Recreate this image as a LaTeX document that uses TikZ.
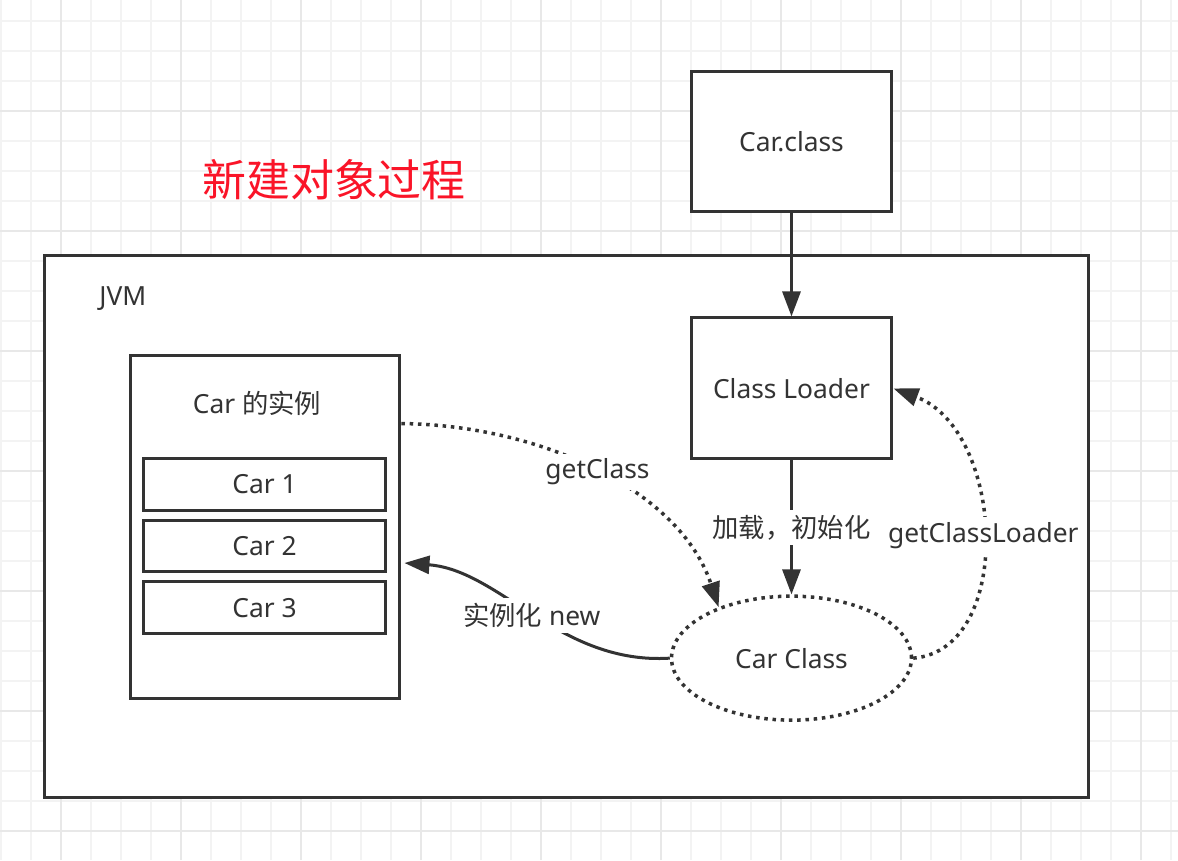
\documentclass[tikz,border=0pt]{standalone}
\usepackage{fontspec}
\setmainfont{Noto Sans}
\newfontfamily\zh{Noto Sans CJK SC}
\usetikzlibrary{arrows.meta, positioning, calc, shapes.geometric}
\definecolor{ink}{HTML}{333333}
\definecolor{gridminor}{HTML}{F3F3F3}
\definecolor{gridmajor}{HTML}{E8E8E8}
\definecolor{titlered}{RGB}{250,20,40}
\newcommand\bodysize{\fontsize{15}{18}\selectfont}

\begin{document}
\begin{tikzpicture}[
    x=0.02cm, y=-0.02cm,
    box/.style={rectangle, draw=ink, line width=0.06cm, fill=white, minimum width=4.02cm, minimum height=2.82cm, font=\bodysize, text=ink},
    cell/.style={rectangle, draw=ink, line width=0.06cm, fill=white, minimum width=4.86cm, minimum height=1.04cm, font=\bodysize, text=ink},
    arr/.style={-{Triangle[length=0.5cm, width=0.36cm]}, draw=ink, line width=0.06cm},
    dots/.style={line width=0.07cm, dash pattern=on 0.07cm off 0.095cm},
    lbl/.style={fill=white, inner sep=3pt, font=\bodysize, text=ink},
  ]
    \useasboundingbox (0,0) rectangle (1178,860);

    % Canvas grid
    \begin{scope}
      \clip (0,0) rectangle (1178,860);
      \foreach \gx in {1,31,...,1171} \draw[gridminor, line width=0.04cm] (\gx,0) -- (\gx,860);
      \foreach \gy in {21,51,...,851} \draw[gridminor, line width=0.04cm] (0,\gy) -- (1178,\gy);
      \foreach \gx in {61,181,...,1141} \draw[gridmajor, line width=0.05cm] (\gx,0) -- (\gx,860);
      \foreach \gy in {111,231,...,831} \draw[gridmajor, line width=0.05cm] (0,\gy) -- (1178,\gy);
    \end{scope}

    % Title
    \node[font=\zh\fontsize{25}{30}\selectfont, text=titlered] (title) at (334,180) {新建对象过程};

    % JVM
    \node[draw=ink, line width=0.06cm, fill=white, minimum width=20.9cm, minimum height=10.86cm] (jvm) at (566.5,526.5) {};
    \node[anchor=west, inner sep=0pt, font=\bodysize, text=ink] (jvmlbl) at (99,299) {JVM};

    % Class file and loader
    \node[box] (carfile) at (791.5,141.5) {Car.class};
    \node[box, below=2.06cm of carfile] (loader) {Class Loader};
    \draw[arr] (carfile) -- (loader);

    % Class object
    \node[ellipse, draw=ink, dots, fill=white, minimum width=4.8cm, minimum height=2.48cm, font=\bodysize, text=ink, below=2.68cm of loader] (carcls) {Car Class};
    \draw[arr] (loader) -- (carcls) node[lbl, midway] {\zh 加载，初始化};

    % Instances
    \node[draw=ink, line width=0.06cm, fill=white, minimum width=5.4cm, minimum height=6.88cm] (inst) at (265,527) {};
    \node[font=\bodysize, text=ink] (insttitle) at (257,403) {Car {\zh 的实例}};
    \node[cell] (car1) at (264.5,484) {Car 1};
    \node[cell, below=0.14cm of car1] (car2) {Car 2};
    \node[cell, below=0.14cm of car2] (car3) {Car 3};

    % Links
    \coordinate (gcfrom) at ($(inst.north east)+(0,70)$);
    \coordinate (newto) at ($(inst.east)+(3,36)$);
    \draw[arr, dots] (gcfrom) .. controls (540,425) and (680,490) .. (carcls.145) node[lbl, pos=0.5] {getClass};
    \draw[arr] (carcls.west) .. controls (560,665) and (500,570) .. (newto) node[lbl, pos=0.5] {{\zh 实例化} new};
    \draw[arr, dots] (carcls.east) .. controls (1015,650) and (1005,430) .. (loader.east) node[lbl, pos=0.5] {getClassLoader};
  \end{tikzpicture}
\end{document}
